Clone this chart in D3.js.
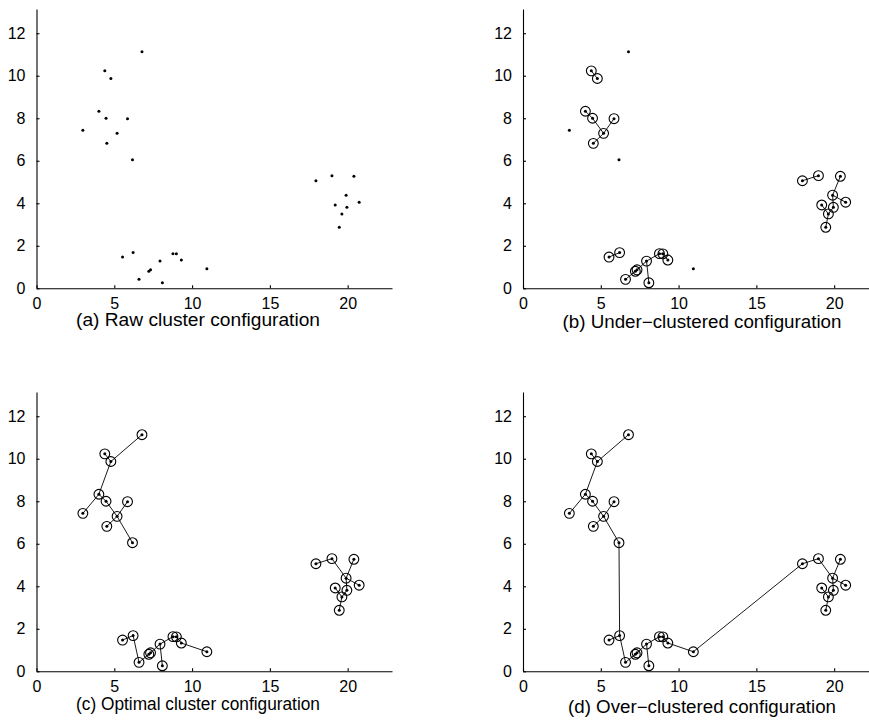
<!DOCTYPE html>
<html>
<head>
<meta charset="utf-8">
<script src="https://cdn.jsdelivr.net/npm/d3@7"></script>
<style>
  body { margin: 0; background: #fff; }
  svg { display: block; }
  text { font-family: "Liberation Sans", Arial, Helvetica, sans-serif; fill: #000; }
</style>
</head>
<body>
<svg id="chart" width="869" height="722"></svg>
<script>
// point coordinates
var px = [6.78, 4.39, 4.78, 4.01, 4.47, 5.85, 2.98, 5.18, 4.52, 6.17,
          17.96, 18.99, 20.40, 19.90, 20.74, 19.20, 19.95, 19.63, 19.46,
          5.53, 6.21, 6.59, 7.22, 7.33, 7.94, 8.09, 8.77, 8.99, 9.31, 10.95]
var py = [11.13, 10.23, 9.87, 8.33, 8.00, 7.98, 7.43, 7.29, 6.82, 6.05,
          5.06, 5.30, 5.27, 4.38, 4.05, 3.92, 3.81, 3.50, 2.87,
          1.47, 1.68, 0.42, 0.80, 0.87, 1.28, 0.26, 1.63, 1.62, 1.33, 0.92]

// links of the over-clustered tree (point indices)
var treeLinks = [[0, 2], [1, 2], [2, 3], [3, 6], [3, 4], [4, 7], [7, 5], [7, 8], [7, 9],
                 [9, 20], [20, 19], [20, 21], [21, 22], [22, 23], [23, 24], [24, 25],
                 [24, 26], [26, 27], [27, 28], [28, 29], [29, 10],
                 [10, 11], [11, 13], [12, 13], [13, 14], [13, 16], [15, 17], [16, 17], [17, 18]]
// links removed in the optimal and under-clustered panels
var cutOptimal = [[9, 20], [29, 10]]
var cutUnder = [[0, 2], [2, 3], [3, 6], [7, 9], [9, 20], [20, 21], [28, 29], [29, 10], [11, 13]]

var xTicks = [0, 5, 10, 15, 20]
var yTicks = [0, 2, 4, 6, 8, 10, 12]

var panels = [
  { caption: '(a) Raw cluster configuration', left: 36.5, bottom: 288.3, capX: 198, capY: 326, capW: 244, cut: null },
  { caption: '(b) Under\u2212clustered configuration', left: 523, bottom: 288.3, capX: 702, capY: 328, capW: 279, cut: cutUnder },
  { caption: '(c) Optimal cluster configuration', left: 36.5, bottom: 671.3, capX: 198, capY: 710, capW: 244, cut: cutOptimal },
  { caption: '(d) Over\u2212clustered configuration', left: 523, bottom: 671.3, capX: 702, capY: 713, capW: 268, cut: [] }
]

var axW = 355.5, axH = 279.3
var xMax = 22.85, yMax = 13.14

var svg = d3.select('#chart')

var sameLink = function(a, b) {
  return (a[0] === b[0] && a[1] === b[1]) || (a[0] === b[1] && a[1] === b[0])
}

panels.forEach(function(p) {
  var x = d3.scaleLinear().domain([0, xMax]).range([p.left, p.left + axW])
  var y = d3.scaleLinear().domain([0, yMax]).range([p.bottom, p.bottom - axH])
  var g = svg.append('g')

  var links = p.cut === null ? [] : treeLinks.filter(function(l) {
    return !p.cut.some(function(c) { return sameLink(c, l) })
  })
  var linked = {}
  links.forEach(function(l) { linked[l[0]] = true; linked[l[1]] = true })

  g.append('g').attr('transform', 'translate(0,' + p.bottom + ')')
    .call(d3.axisBottom(x).tickValues(xTicks).tickSizeInner(-3).tickSizeOuter(0).tickPadding(9))
  g.append('g').attr('transform', 'translate(' + p.left + ',0)')
    .call(d3.axisLeft(y).tickValues(yTicks).tickSizeInner(-3).tickSizeOuter(0).tickPadding(11))
  g.selectAll('.tick text').style('font-size', '16px')
  g.selectAll('.domain, .tick line').attr('stroke', '#000').attr('stroke-width', 1.1)

  g.selectAll('line.link').data(links)
    .enter().append('line').attr('class', 'link')
    .attr('x1', function(l) { return x(px[l[0]]) })
    .attr('y1', function(l) { return y(py[l[0]]) })
    .attr('x2', function(l) { return x(px[l[1]]) })
    .attr('y2', function(l) { return y(py[l[1]]) })
    .attr('stroke', '#000').attr('stroke-width', 0.9)

  g.selectAll('circle.ring').data(d3.range(px.length).filter(function(i) { return linked[i] }))
    .enter().append('circle').attr('class', 'ring')
    .attr('cx', function(i) { return x(px[i]) })
    .attr('cy', function(i) { return y(py[i]) })
    .attr('r', 4.9)
    .attr('fill', 'none').attr('stroke', '#000').attr('stroke-width', 1.1)

  g.selectAll('circle.dot').data(d3.range(px.length))
    .enter().append('circle').attr('class', 'dot')
    .attr('cx', function(i) { return x(px[i]) })
    .attr('cy', function(i) { return y(py[i]) })
    .attr('r', 1.5)
    .attr('fill', '#000')

  g.append('text').attr('x', p.capX).attr('y', p.capY)
    .attr('text-anchor', 'middle').style('font-size', '17.5px')
    .attr('textLength', p.capW).attr('lengthAdjust', 'spacingAndGlyphs')
    .text(p.caption)
})
</script>
</body>
</html>
